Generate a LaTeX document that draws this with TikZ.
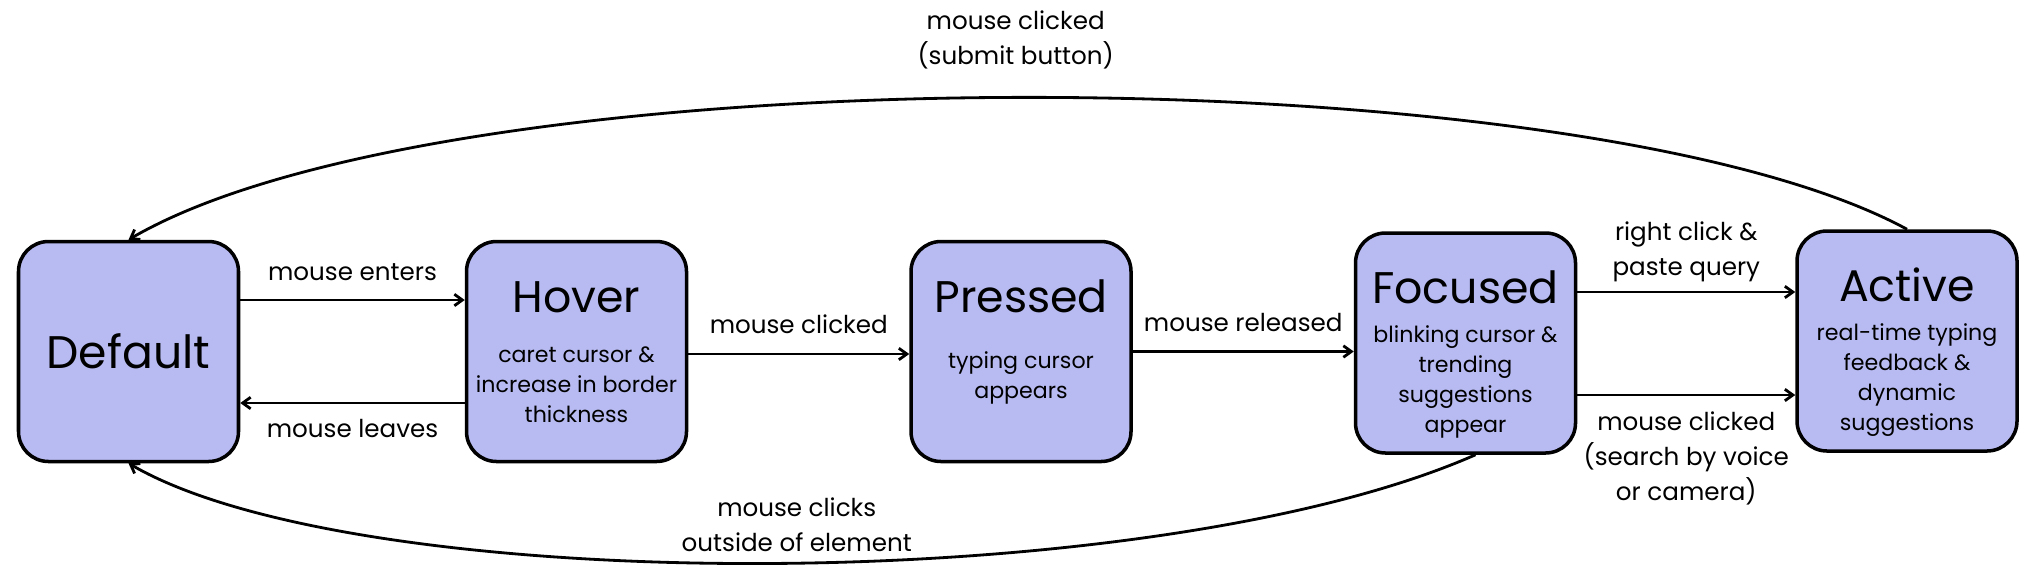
\documentclass[tikz,border=0pt]{standalone}
\usepackage{fontspec}
\setmainfont{Poppins}
\usetikzlibrary{arrows.meta, positioning}
\definecolor{stateFill}{RGB}{184, 187, 242}

\begin{document}
\begin{tikzpicture}[
    statebox/.style={draw, line width=1.0pt, fill=stateFill, rounded corners=0.3cm, minimum width=2.2cm, minimum height=2.2cm},
    titletext/.style={inner sep=0pt, anchor=base, font=\fontsize{12.6}{14}\selectfont},
    subtext/.style={inner sep=0pt, anchor=base, align=center, font=\fontsize{6.3}{8.55}\selectfont},
    lbl/.style={inner sep=0pt, align=center, font=\fontsize{7.0}{9.9}\selectfont},
    trans/.style={-{Straight Barb[length=0.8mm, width=1.15mm]}, line width=0.8pt}
]
    \useasboundingbox (0,0) rectangle (20.33,5.82);

    % states
    \node[statebox] (default) at (1.285,2.305) {};
    \node[statebox] (hover)   at (5.765,2.305) {};
    \node[statebox] (pressed) at (10.21,2.305) {};
    \node[statebox] (focused) at (14.655,2.39) {};
    \node[statebox] (active)  at (19.07,2.41) {};

    % titles and descriptions (base = last line)
    \node[titletext, anchor=center, font=\fontsize{13}{15}\selectfont] (defaultTitle) at (default) {Default};
    \node[titletext] (hoverTitle) at ([yshift=-7.3mm]hover.north) {Hover};
    \node[subtext] (hoverText) at ([yshift=-18.3mm]hover.north) {caret cursor \&\\increase in border\\thickness};
    \node[titletext] (pressedTitle) at ([yshift=-7.3mm]pressed.north) {Pressed};
    \node[subtext] (pressedText) at ([yshift=-15.9mm]pressed.north) {typing cursor\\appears};
    \node[titletext] (focusedTitle) at ([yshift=-7.2mm]focused.north) {Focused};
    \node[subtext] (focusedText) at ([yshift=-20.1mm]focused.north) {blinking cursor \&\\trending\\suggestions\\appear};
    \node[titletext] (activeTitle) at ([yshift=-7.2mm]active.north) {Active};
    \node[subtext] (activeText) at ([yshift=-20.1mm]active.north) {real-time typing\\feedback \&\\dynamic\\suggestions};

    % transitions
    \draw[trans] ([yshift=5.15mm]default.east) -- ([yshift=5.15mm]hover.west)
        node[lbl, midway, anchor=base, yshift=2mm] (enterLbl) {mouse enters};
    \draw[trans] ([yshift=-5.15mm]hover.west) -- ([yshift=-5.15mm]default.east)
        node[lbl, midway, anchor=base, yshift=-3.4mm] (leaveLbl) {mouse leaves};
    \draw[trans] ([yshift=-0.25mm]hover.east) -- ([yshift=-0.25mm]pressed.west)
        node[lbl, midway, anchor=base, yshift=2.1mm] (clickLbl) {mouse clicked};
    \draw[trans] (pressed.east) -- (pressed.east -| focused.west)
        node[lbl, midway, anchor=base, yshift=2mm] (releaseLbl) {mouse released};
    \draw[trans] ([yshift=5.1mm]focused.east) -- ([yshift=5.1mm]focused.east -| active.west)
        node[lbl, midway, anchor=south, yshift=0.9mm] (pasteLbl) {right click \&\\paste query};
    \draw[trans] ([yshift=-5.2mm]focused.east) -- ([yshift=-5.2mm]focused.east -| active.west)
        node[lbl, midway, anchor=north, yshift=-1.55mm] (voiceLbl) {mouse clicked\\(search by voice\\or camera)};
    \draw[trans] (active.north) .. controls (15.8,5.3) and (4.5,5.3) .. (default.north)
        node[lbl, pos=0.5, anchor=south, yshift=2.7mm] (submitLbl) {mouse clicked\\(submit button)};
    \draw[trans] ([xshift=1mm]focused.south) .. controls (11.5,-0.16) and (3.6,-0.16) .. (default.south)
        node[lbl, pos=0.5, anchor=south, xshift=3mm, yshift=1.0mm] (outsideLbl) {mouse clicks\\outside of element};
\end{tikzpicture}
\end{document}
